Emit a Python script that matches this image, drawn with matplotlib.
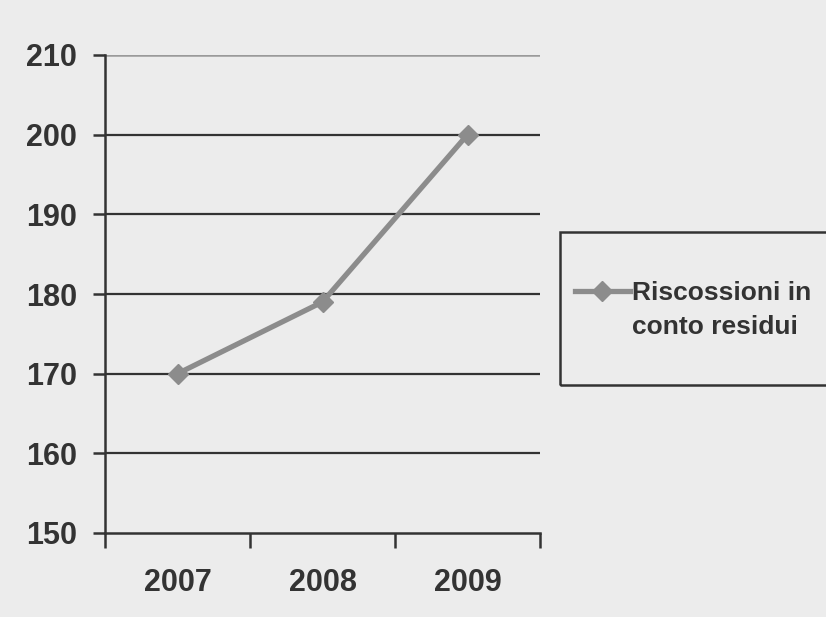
import matplotlib
matplotlib.use("Agg")
import matplotlib.pyplot as plt
from matplotlib.patches import Rectangle
from matplotlib.lines import Line2D

years = ["2007", "2008", "2009"]
riscossioni = [170, 179, 200]
y_ticks = [150, 160, 170, 180, 190, 200, 210]
series_label = "Riscossioni in\nconto residui"

bg = "#ececec"
ink = "#333333"
line_col = "#8c8c8c"

plt.rcParams["font.family"] = ["Liberation Sans", "DejaVu Sans"]

fig = plt.figure(figsize=(8.26, 6.17), dpi=100, facecolor=bg)
ax = fig.add_axes([105 / 826, 1 - 533 / 617, 435 / 826, 478 / 617])
ax.set_facecolor("none")

x = list(range(len(years)))
line, = ax.plot(x, riscossioni, color=line_col, lw=3.8, marker="D",
                markersize=10, markerfacecolor=line_col, markeredgecolor=line_col,
                label=series_label, zorder=3)

ax.set_xlim(-0.5, len(years) - 0.5)
ax.set_ylim(150, 210)
ax.set_yticks(y_ticks)
ax.set_yticklabels([str(v) for v in y_ticks], fontsize=22, fontweight="bold", color=ink)

# category labels centered, tick marks on the category boundaries
ax.set_xticks(x)
ax.set_xticklabels(years, fontsize=22, fontweight="bold", color=ink)
ax.tick_params(axis="x", length=0, pad=25)
ax.set_xticks([i - 0.5 for i in range(len(years) + 1)], minor=True)
ax.tick_params(axis="x", which="minor", length=11, width=1.8, color=ink, direction="out")
ax.tick_params(axis="y", length=9, width=1.8, color=ink, pad=11)

for v in y_ticks[1:-1]:
    ax.axhline(v, color=ink, lw=1.6, zorder=1)
ax.axhline(210, color="#9a9a9a", lw=1.8, zorder=1)

for s in ["top", "right"]:
    ax.spines[s].set_visible(False)
for s in ["left", "bottom"]:
    ax.spines[s].set_color(ink)
    ax.spines[s].set_linewidth(1.8)

# legend box running off the right edge
fig.patches.append(Rectangle((560 / 826, 1 - 385 / 617), 300 / 826, 153 / 617,
                             transform=fig.transFigure, fill=False,
                             edgecolor=ink, lw=1.8, clip_on=False))
key_y = 1 - 291 / 617
fig.add_artist(Line2D([575 / 826, 602 / 826, 630 / 826], [key_y] * 3,
                      transform=fig.transFigure, color=line.get_color(),
                      lw=line.get_linewidth(), marker="D", markevery=[1],
                      markersize=10, markerfacecolor=line_col,
                      markeredgecolor=line_col))
fig.text(632 / 826, 1 - 281 / 617, line.get_label(), ha="left", va="top",
         fontsize=19, fontweight="bold", color=ink, linespacing=1.5)

fig.savefig("out.png", dpi=100, facecolor=bg)
